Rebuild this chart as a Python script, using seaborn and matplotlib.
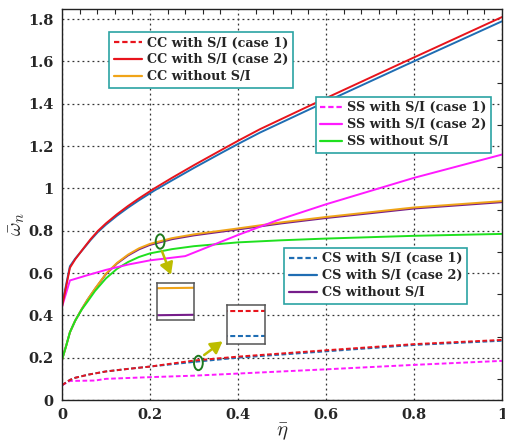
import numpy as np
import pandas as pd
import matplotlib
matplotlib.use("Agg")
import matplotlib.pyplot as plt
import seaborn as sns
from matplotlib.lines import Line2D
from matplotlib.patches import Ellipse
from matplotlib.ticker import MultipleLocator

# ---------------- data ----------------
case2_x = [0, 0.018, 0.03, 0.05, 0.065, 0.082, 0.1, 0.125, 0.15, 0.175, 0.21, 0.25, 0.3,
           0.365, 0.4, 0.45, 0.567, 0.78, 1.0]
cc2_y = [0.44, 0.625, 0.665, 0.72, 0.76, 0.80, 0.835, 0.878, 0.917, 0.953, 1.0, 1.05, 1.11,
         1.185, 1.225, 1.28, 1.395, 1.60, 1.81]
cs2_y = [0.45, 0.632, 0.668, 0.718, 0.756, 0.795, 0.829, 0.871, 0.909, 0.944, 0.99, 1.038, 1.097,
         1.171, 1.21, 1.264, 1.378, 1.582, 1.79]

wo_x = [0, 0.01, 0.018, 0.03, 0.045, 0.058, 0.075, 0.1, 0.125, 0.15, 0.175, 0.2, 0.25, 0.3,
        0.4, 0.5, 0.6, 0.8, 1.0]
cs0_y = [0.19, 0.26, 0.32, 0.375, 0.43, 0.474, 0.525, 0.595, 0.645, 0.683, 0.712, 0.733, 0.76, 0.778,
         0.806, 0.835, 0.86, 0.905, 0.935]
cc0_y = [0.19, 0.26, 0.32, 0.375, 0.43, 0.474, 0.526, 0.597, 0.648, 0.687, 0.717, 0.738, 0.765, 0.783,
         0.811, 0.84, 0.865, 0.91, 0.94]
ss0_y = [0.19, 0.26, 0.32, 0.375, 0.428, 0.465, 0.515, 0.575, 0.62, 0.652, 0.676, 0.693, 0.713, 0.727,
         0.745, 0.755, 0.763, 0.776, 0.785]

ss2_x = [0, 0.018, 0.058, 0.1, 0.15, 0.2, 0.28, 0.4, 0.49, 0.6, 0.8, 1.0]
ss2_y = [0.44, 0.565, 0.59, 0.615, 0.64, 0.66, 0.68, 0.78, 0.85, 0.925, 1.05, 1.16]

case1_x = [0, 0.018, 0.03, 0.06, 0.1, 0.15, 0.2, 0.3, 0.4, 0.5, 0.6, 0.8, 1.0]
cs1_y = [0.07, 0.095, 0.105, 0.12, 0.135, 0.147, 0.158, 0.18, 0.20, 0.215, 0.23, 0.26, 0.28]
cc1_y = [0.07, 0.095, 0.105, 0.12, 0.135, 0.147, 0.158, 0.1865, 0.205, 0.22, 0.235, 0.264, 0.284]

ss1_x = [0, 0.018, 0.075, 0.1, 0.2, 0.3, 0.4, 0.6, 0.8, 1.0]
ss1_y = [0.07, 0.09, 0.092, 0.10, 0.108, 0.115, 0.125, 0.145, 0.166, 0.185]

x_ticks = [0, 0.2, 0.4, 0.6, 0.8, 1]
x_ticklabels = ["0", "0.2", "0.4", "0.6", "0.8", "1"]
y_ticks = [0, 0.2, 0.4, 0.6, 0.8, 1.0, 1.2, 1.4, 1.6, 1.8]
y_ticklabels = ["0", "0.2", "0.4", "0.6", "0.8", "1", "1.2", "1.4", "1.6", "1.8"]

RED = "#e8141c"
BLUE = "#1f6db3"
ORANGE = "#f0a418"
PURPLE = "#761d8a"
MAGENTA = "#ff1aff"
GREEN = "#1fe01f"
DASH = (0, (2.4, 1.3))

series = [
    ("CC with S/I (case 1)", case1_x, cc1_y, RED, DASH),
    ("CC with S/I (case 2)", case2_x, cc2_y, RED, "-"),
    ("CC without S/I", wo_x, cc0_y, ORANGE, "-"),
    ("SS with S/I (case 1)", ss1_x, ss1_y, MAGENTA, DASH),
    ("SS with S/I (case 2)", ss2_x, ss2_y, MAGENTA, "-"),
    ("SS without S/I", wo_x, ss0_y, GREEN, "-"),
    ("CS with S/I (case 1)", case1_x, cs1_y, BLUE, DASH),
    ("CS with S/I (case 2)", case2_x, cs2_y, BLUE, "-"),
    ("CS without S/I", wo_x, cs0_y, PURPLE, "-"),
]

sns.set_style("white")
plt.rcParams["font.family"] = ["DejaVu Serif"]
plt.rcParams["mathtext.fontset"] = "cm"

fig = plt.figure(figsize=(5.05, 4.41), dpi=100)
ax = fig.add_axes([62 / 505, 41 / 441, 440 / 505, 391 / 441])

draw_order = [8, 2, 5, 4, 7, 1, 3, 6, 0]
handles = {}
for i in draw_order:
    lab, xs, ys, col, ls = series[i]
    df = pd.DataFrame({"x": xs, "y": ys})
    sns.lineplot(data=df, x="x", y="y", ax=ax, color=col, linestyle=ls,
                 linewidth=1.4, estimator=None, sort=True, legend=False)
    handles[i] = Line2D([0], [0], color=col, linestyle=ls, linewidth=1.6)

ax.set_xlim(0, 1)
ax.set_ylim(0, 1.848)
ax.set_xticks(x_ticks)
ax.set_xticklabels(x_ticklabels)
ax.set_yticks(y_ticks)
ax.set_yticklabels(y_ticklabels)
ax.xaxis.set_minor_locator(MultipleLocator(0.04))
ax.yaxis.set_minor_locator(MultipleLocator(0.1))
ax.tick_params(which="both", direction="in", top=True, right=True)
ax.tick_params(which="major", length=0, pad=6)
ax.tick_params(which="minor", length=3.5, width=0.8)
for lbl in ax.get_xticklabels() + ax.get_yticklabels():
    lbl.set_fontweight("bold")
    lbl.set_fontsize(10.5)
ax.grid(True, which="major", color="#333333", linestyle=(0, (1.5, 2.5)), linewidth=0.9)
for s in ax.spines.values():
    s.set_color("#222222")
    s.set_linewidth(1.0)

ax.set_xlabel(r"$\bar{\eta}$", fontsize=15)
ax.xaxis.set_label_coords(0.5, -0.055)
ax.set_ylabel(r"$\bar{\omega}_n$", fontsize=15)
ax.yaxis.set_label_coords(-0.08, 0.45)

base_kw = dict(borderaxespad=0, fancybox=False, framealpha=1,
               edgecolor="#2ba3a3", handletextpad=0.4,
               labelspacing=0.3, borderpad=0.35,
               prop={"weight": "bold", "size": 9.2, "family": "DejaVu Serif"})
groups = [([0, 1, 2], "upper left", (0.107, 0.941), 2.2),
          ([3, 4, 5], "upper right", (0.975, 0.775), 1.7),
          ([6, 7, 8], "upper left", (0.505, 0.389), 2.2)]
legs = []
for idxs, loc, anchor, hl in groups:
    leg = ax.legend([handles[i] for i in idxs], [series[i][0] for i in idxs],
                    loc=loc, bbox_to_anchor=anchor, handlelength=hl, **base_kw)
    leg.get_frame().set_linewidth(1.2)
    legs.append(leg)
for leg in legs[:-1]:
    ax.add_artist(leg)

# ellipses marking zoomed regions
spots = [(0.223, 0.749), (0.31, 0.175)]
for cx, cy in spots:
    ax.add_patch(Ellipse((cx, cy), 0.02, 0.068, fill=False, edgecolor="#1e7a1e",
                         linewidth=1.4, zorder=5))

arrow_kw = dict(arrowstyle="-|>,head_length=0.7,head_width=0.4", color="#bdbd00", lw=1.8)
ax.annotate("", xy=(0.25, 0.58), xytext=(0.225, 0.715), arrowprops=arrow_kw)
ax.annotate("", xy=(0.37, 0.285), xytext=(0.318, 0.205), arrowprops=arrow_kw)


def make_inset(rect, upper_idx, lower_idx, x0, f_up, f_low):
    ins = fig.add_axes(rect)
    for i in (lower_idx, upper_idx):
        lab, xs, ys, col, ls = series[i]
        sns.lineplot(x=xs, y=ys, ax=ins, color=col, linestyle=ls, linewidth=1.5,
                     estimator=None, legend=False)
    w = 0.00015
    up = np.interp(x0, series[upper_idx][1], series[upper_idx][2])
    lo = np.interp(x0, series[lower_idx][1], series[lower_idx][2])
    rng = (up - lo) / (f_up - f_low)
    ymin = lo - f_low * rng
    ins.set_xlim(x0 - w / 2, x0 + w / 2)
    ins.set_ylim(ymin, ymin + rng)
    ins.set_xticks([])
    ins.set_yticks([])
    ins.set_xlabel("")
    ins.set_ylabel("")
    ins.grid(False)
    ins.set_facecolor("white")
    for s in ins.spines.values():
        s.set_color("#555555")
        s.set_linewidth(1.1)
    return ins


make_inset([157 / 505, (441 - 320) / 441, 37 / 505, 37 / 441], 2, 8, spots[0][0], 0.865, 0.135)
make_inset([227 / 505, (441 - 344) / 441, 38 / 505, 39 / 441], 0, 6, spots[1][0], 0.846, 0.205)

fig.savefig("out.png", dpi=100)
